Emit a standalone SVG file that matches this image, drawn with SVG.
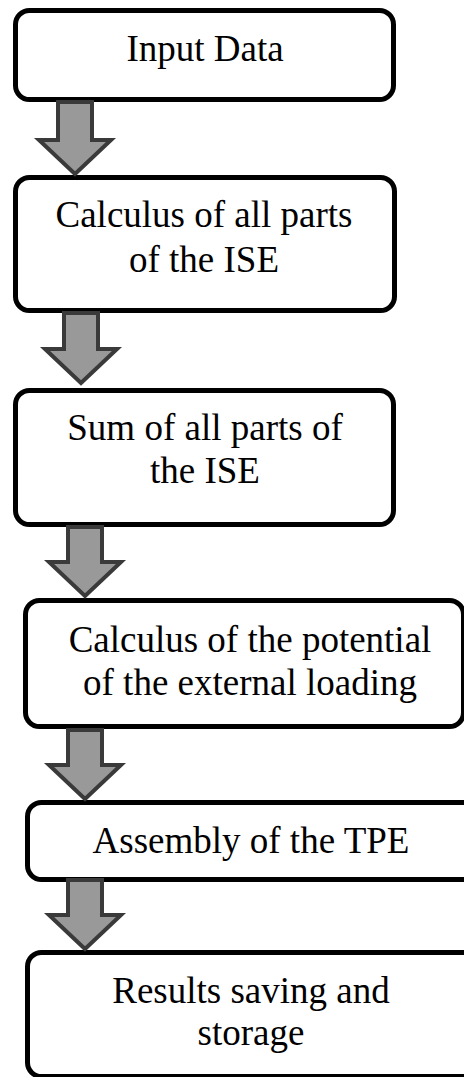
<svg xmlns="http://www.w3.org/2000/svg" width="464" height="1077" viewBox="0 0 464 1077">
<style>
.box{fill:#fff;stroke:#000;stroke-width:5}
.lbl{font-family:'Liberation Serif','DejaVu Serif',serif;font-size:37px;fill:#000;text-anchor:middle}
.arr{fill:#999;stroke:#3a3a3a;stroke-width:4;stroke-linejoin:miter}
</style>
<rect width="464" height="1077" fill="#fff"/>
<g id="n1"><rect class="box" x="15.5" y="10.5" width="378" height="89" rx="14"/><text class="lbl" x="205" y="61">Input Data</text></g>
<g id="n2"><rect class="box" x="15.5" y="177.5" width="379" height="133" rx="14"/><text class="lbl" x="204" y="227">Calculus of all parts</text><text class="lbl" x="204" y="272">of the ISE</text></g>
<g id="n3"><rect class="box" x="15.5" y="390.5" width="378" height="134" rx="14"/><text class="lbl" x="205" y="440">Sum of all parts of</text><text class="lbl" x="205" y="483">the ISE</text></g>
<g id="n4"><rect class="box" x="25.5" y="600.5" width="438" height="126" rx="14"/><text class="lbl" x="250" y="652">Calculus of the potential</text><text class="lbl" x="250" y="695">of the external loading</text></g>
<g id="n5"><rect class="box" x="27.5" y="802.5" width="460" height="77" rx="14"/><text class="lbl" x="251" y="853">Assembly of the TPE</text></g>
<g id="n6"><rect class="box" x="27.5" y="952.5" width="460" height="124" rx="14"/><text class="lbl" x="251" y="1003">Results saving and</text><text class="lbl" x="251" y="1045">storage</text></g>
<g id="connectors">
<path class="arr" d="M58 102H92V140H111L75 174L39 140H58Z"/>
<path class="arr" d="M64 313H98V349H117L81 383L45 349H64Z"/>
<path class="arr" d="M68 527H102V562H121L85 596L49 562H68Z"/>
<path class="arr" d="M68 730H102V765H121L85 799L49 765H68Z"/>
<path class="arr" d="M68 880H102V915H121L85 949L49 915H68Z"/>
</g>
</svg>
